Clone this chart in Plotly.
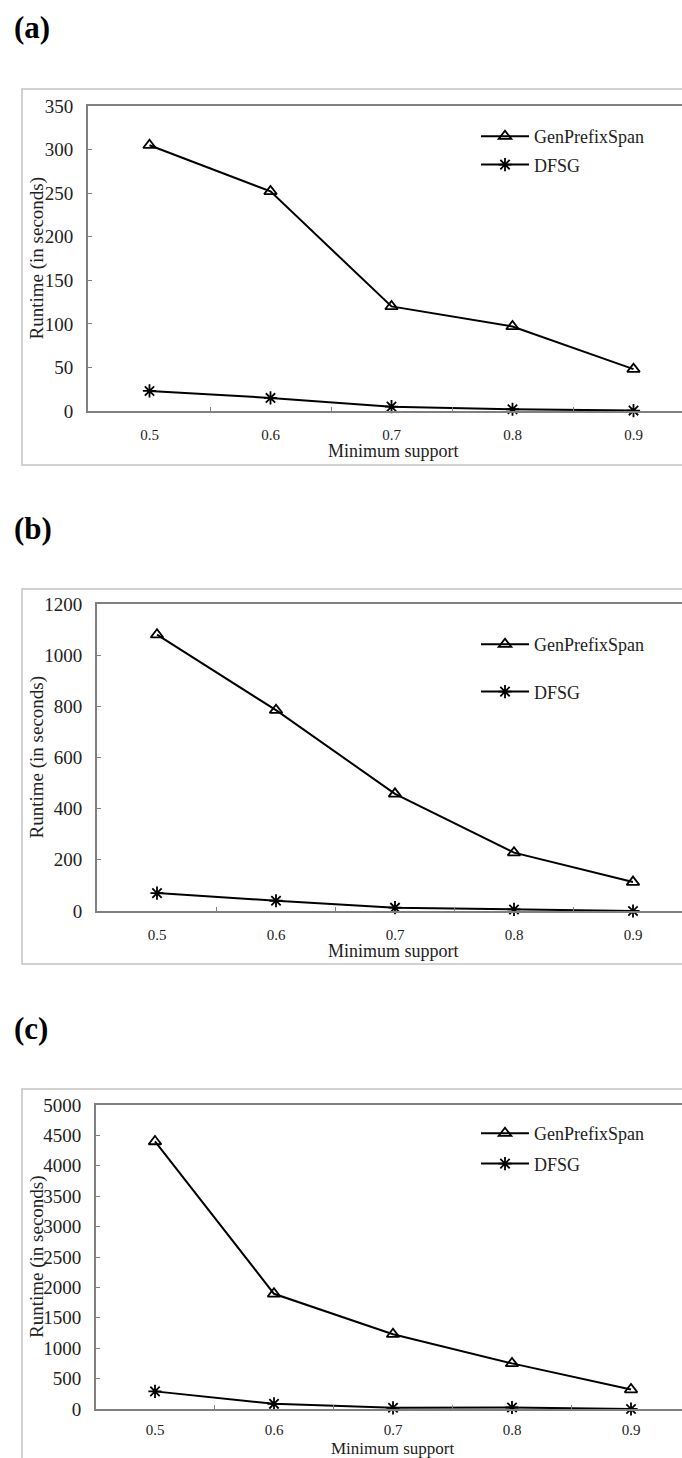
import plotly.graph_objects as go

W, H = 682, 1458

# ---------------- data ----------------
support = [0.5, 0.6, 0.7, 0.8, 0.9]
support_labels = ["0.5", "0.6", "0.7", "0.8", "0.9"]
boundaries = [0.55, 0.65, 0.75, 0.85]

gps_a = [305, 252, 120, 97, 48]
dfsg_a = [23, 15, 5, 2, 0.5]

gps_b = [1080, 785, 458, 228, 113]
dfsg_b = [70, 40, 13, 6, 0]

gps_c = [4400, 1895, 1230, 750, 320]
dfsg_c = [290, 85, 20, 25, 0]

panel_labels = ["(a)", "(b)", "(c)"]
series_names = ["GenPrefixSpan", "DFSG"]
x_title = "Minimum support"
y_title = "Runtime (in seconds)"


def py(px):
    """pixel row (from top) -> paper fraction"""
    return (H - px) / H


panels = [
    dict(gps=gps_a, dfsg=dfsg_a, ymax=350, dtick=50, top=106, bottom=411,
         left=88, x05=149.5, step=121, frame=(89, 465), label_y=28,
         leg_item=137, leg_gap=2, xt_y=451, xstand=9, xt_size=18),
    dict(gps=gps_b, dfsg=dfsg_b, ymax=1200, dtick=200, top=604, bottom=911,
         left=97, x05=157, step=119, frame=(589, 964), label_y=528,
         leg_item=645, leg_gap=21, xt_y=951, xstand=9, xt_size=18),
    dict(gps=gps_c, dfsg=dfsg_c, ymax=5000, dtick=500, top=1105, bottom=1409,
         left=96, x05=155, step=119, frame=(1089, 1520), label_y=1028,
         leg_item=1134, leg_gap=4, xt_y=1448, xstand=6, xt_size=17),
]

FONT = "Liberation Serif"
AXC = "#808080"
TXT = "#222222"

fig = go.Figure()
shapes = []
annotations = []
layout = dict(width=W, height=H, margin=dict(l=0, r=0, t=0, b=0),
              paper_bgcolor="white", plot_bgcolor="white", showlegend=True)

for i, p in enumerate(panels):
    k = "" if i == 0 else str(i + 1)
    xa, ya, lg = "x" + k, "y" + k, "legend" + k
    for name, vals, sym in [(series_names[0], p["gps"], "triangle-up-open"),
                            (series_names[1], p["dfsg"], "asterisk-open")]:
        fig.add_trace(go.Scatter(
            x=support, y=vals, name=name, mode="lines+markers",
            xaxis=xa, yaxis=ya, legend=lg, legendgroup=name + k,
            line=dict(color="black", width=2),
            marker=dict(symbol=sym, size=11, color="black",
                        line=dict(width=1.8, color="black")),
            cliponaxis=False))

    scale = p["step"] * 10.0
    layout["xaxis" + k] = dict(
        domain=[p["left"] / W, 1],
        range=[0.5 - (p["x05"] - p["left"]) / scale, 0.5 + (W - p["x05"]) / scale],
        tickvals=support, ticktext=support_labels, ticks="",
        showline=True, mirror=True, linecolor=AXC, linewidth=2,
        showgrid=False, zeroline=False, anchor=ya, automargin=False,
        tickfont=dict(family=FONT, size=15, color=TXT),
        ticklabelstandoff=p["xstand"],
        minor=dict(tickvals=boundaries, ticks="inside", ticklen=4,
                   tickcolor=AXC, tickwidth=1, showgrid=False))
    layout["yaxis" + k] = dict(
        domain=[py(p["bottom"]), py(p["top"])],
        range=[0, p["ymax"]], tick0=0, dtick=p["dtick"],
        ticks="inside", ticklen=4, tickcolor=AXC, tickwidth=1,
        showline=True, linecolor=AXC, linewidth=2,
        showgrid=False, zeroline=False, anchor=xa, automargin=False,
        tickfont=dict(family=FONT, size=19, color=TXT), ticklabelstandoff=9)
    layout[lg] = dict(
        x=476 / W, y=py(p["leg_item"] - 19), xanchor="left", yanchor="top",
        bgcolor="rgba(0,0,0,0)", borderwidth=0, tracegroupgap=p["leg_gap"],
        itemwidth=48,
        font=dict(family=FONT, size=18, color=TXT))

    f0, f1 = p["frame"]
    shapes.append(dict(type="rect", xref="paper", yref="paper",
                       x0=22 / W, x1=1.05, y0=py(f1), y1=py(f0),
                       line=dict(color="#c4c4c4", width=1.5), layer="below"))
    annotations.append(dict(text="<b>" + panel_labels[i] + "</b>", xref="paper",
                            yref="paper", x=12 / W, y=py(p["label_y"]),
                            xanchor="left", yanchor="middle", showarrow=False,
                            font=dict(family=FONT, size=31, color="black")))
    annotations.append(dict(text=y_title, textangle=-90, xref="paper", yref="paper",
                            x=37 / W, y=py((p["top"] + p["bottom"]) / 2),
                            xanchor="center", yanchor="middle", showarrow=False,
                            font=dict(family=FONT, size=19, color=TXT)))
    annotations.append(dict(text=x_title, xref="paper", yref="paper",
                            x=393 / W, y=py(p["xt_y"]),
                            xanchor="center", yanchor="middle", showarrow=False,
                            font=dict(family=FONT, size=p["xt_size"], color=TXT)))

layout["shapes"] = shapes
layout["annotations"] = annotations
fig.update_layout(**layout)
fig.write_html("out.html", config={"displayModeBar": False},
               post_script="document.body.style.margin='0';document.body.style.overflow='hidden';")
